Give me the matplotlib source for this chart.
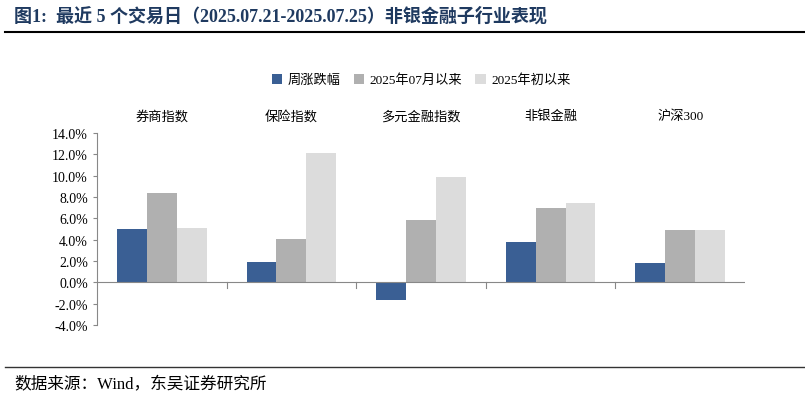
import matplotlib
matplotlib.use("Agg")
import matplotlib.pyplot as plt
import numpy as np

plt.rcParams['font.family'] = ['Liberation Serif', 'Noto Sans CJK SC', 'DejaVu Sans']

categories = ["券商指数", "保险指数", "多元金融指数", "非银金融", "沪深300"]
series_names = ["周涨跌幅", "2025年07月以来", "2025年初以来"]
weekly = [4.98, 1.88, -1.65, 3.76, 1.79]
since_jul = [8.36, 4.04, 5.83, 6.95, 4.89]
since_ytd = [5.07, 12.12, 9.87, 7.42, 4.89]
colors = ["#3A5F94", "#B0B0B0", "#DCDCDC"]

fig = plt.figure(figsize=(8.05, 4.02), dpi=100)
ax = fig.add_axes([97/805, 1-326/402, 648/805, 192/402])
x = np.arange(len(categories))
w = 0.23
for i, (vals, name) in enumerate(zip([weekly, since_jul, since_ytd], series_names)):
    ax.bar(x + (i-1)*w, vals, w, color=colors[i], label=name)
ax.set_xlim(-0.5, 4.5)
ax.set_ylim(-4, 14)
ax.set_yticks(np.arange(-4, 15, 2))
ax.set_yticklabels([f"{v:.1f}%" for v in np.arange(-4, 15, 2)], fontsize=10)
for s in ['top', 'right', 'bottom']:
    ax.spines[s].set_visible(False)
ax.spines['left'].set_color('#888888')
ax.axhline(0, color='#888888', lw=0.8)
ax.set_xticks([])
for b in [0.5, 1.5, 2.5, 3.5]:
    ax.plot([b, b], [0, -0.5], color='#888888', lw=0.8)
ax.tick_params(axis='y', length=3, color='#888888')
for xi, c in zip(x, categories):
    ax.text(xi, 15.6, c, ha='center', va='center', fontsize=9.5)
ax.legend(loc='center', bbox_to_anchor=(0.5, (326-81)/192), ncol=3, frameon=False, fontsize=9.5,
          handlelength=0.8, handleheight=0.8, columnspacing=1.0, handletextpad=0.4)

fig.text(14/805, 1-16/402, "图1:  最近 5 个交易日（2025.07.21-2025.07.25）非银金融子行业表现", fontsize=13, fontweight='bold', va='center', color='#1F3A60')
fig.add_artist(plt.Line2D([5/805, 1], [1-33/402]*2, color='black', lw=1.5))
fig.add_artist(plt.Line2D([5/805, 1], [1-368/402]*2, color='#333333', lw=1))
fig.text(14/805, 1-385/402, "数据来源：Wind，东吴证券研究所", fontsize=12, va='center')
fig.savefig("out.png", dpi=100)
